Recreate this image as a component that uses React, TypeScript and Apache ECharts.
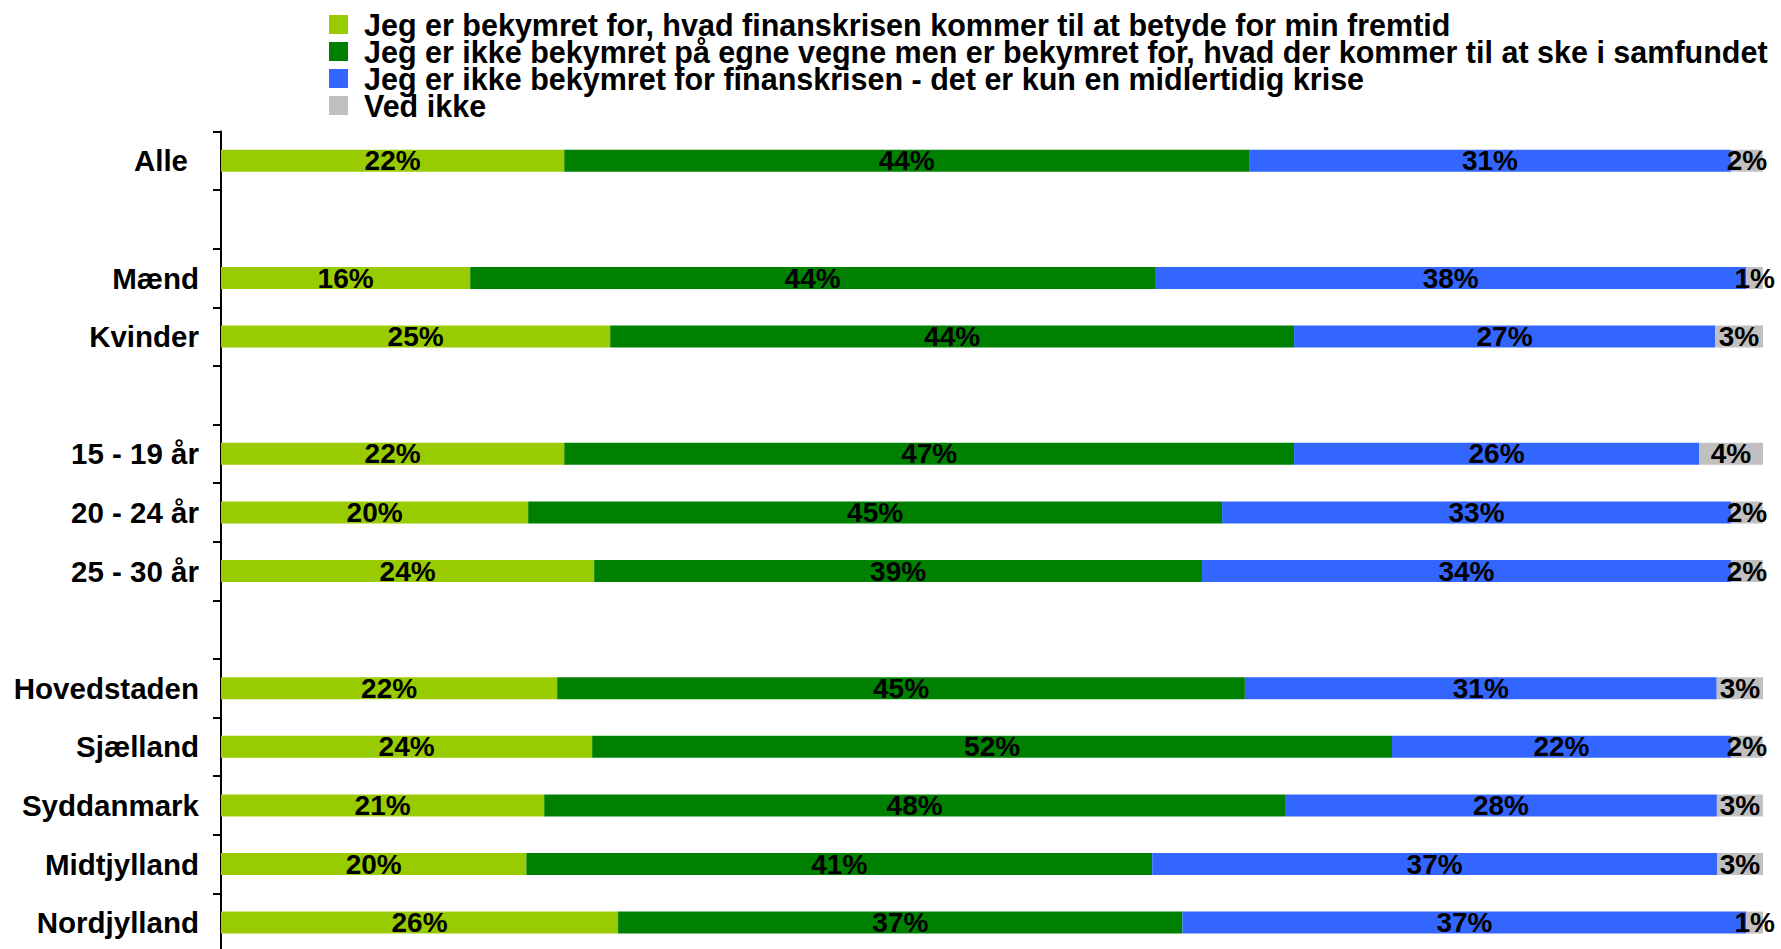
import React, { useEffect, useRef } from "react";
import * as echarts from "echarts";

const rows = [
  "Alle", "", "Mænd", "Kvinder", " ", "15 - 19 år", "20 - 24 år", "25 - 30 år",
  "  ", "Hovedstaden", "Sjælland", "Syddanmark", "Midtjylland", "Nordjylland",
];

const seriesNames = [
  "Jeg er bekymret for, hvad finanskrisen kommer til at betyde for min fremtid",
  "Jeg er ikke bekymret på egne vegne men er bekymret for, hvad der kommer til at ske i samfundet",
  "Jeg er ikke bekymret for finanskrisen - det er kun en midlertidig krise",
  "Ved ikke",
];

const bekymret = [22.26, null, 16.16, 25.24, null, 22.26, 19.92, 24.2, null, 21.8, 24.07, 20.96, 19.8, 25.75];
const samfundet = [44.41, null, 44.41, 44.35, null, 47.33, 45.0, 39.42, null, 44.6, 51.87, 48.04, 40.59, 36.6];
const midlertidig = [31.25, null, 38.36, 27.3, null, 26.26, 33.0, 34.3, null, 30.6, 21.98, 28.01, 36.63, 36.57];
const vedIkke = [2.07, null, 1.06, 3.11, null, 4.15, 2.07, 2.07, null, 3.0, 2.07, 2.98, 2.98, 1.1];

const colors = ["#99CC00", "#008000", "#3366FF", "#C0C0C0"];

const FONT = '"Liberation Sans", Arial, Helvetica, sans-serif';

export default function App() {
  const ref = useRef<HTMLDivElement>(null);

  useEffect(() => {
    document.body.style.margin = "0";
    const chart = echarts.init(ref.current!, null, { renderer: "svg" });
    const dataSets = [bekymret, samfundet, midlertidig, vedIkke];
    const option: any = {
      animation: false,
      backgroundColor: "#ffffff",
      textStyle: { fontFamily: FONT },
      legend: {
        orient: "vertical",
        left: 329,
        top: 9,
        padding: 0,
        itemGap: -4,
        itemWidth: 19,
        itemHeight: 19,
        icon: "rect",
        selectedMode: false,
        data: seriesNames,
        textStyle: {
          fontFamily: FONT,
          fontWeight: "bold",
          fontSize: 30.5,
          color: "#000",
          padding: [0, 0, 0, 11],
        },
      },
      grid: {
        left: 221,
        top: 131.5,
        width: 1542,
        height: 820.4,
        outerBoundsMode: "none",
        containLabel: false,
      },
      xAxis: {
        type: "value",
        min: 0,
        max: 100,
        show: false,
      },
      yAxis: {
        type: "category",
        inverse: true,
        data: rows,
        axisLine: { show: true, lineStyle: { color: "#000", width: 2 } },
        axisTick: { show: true, length: 8, lineStyle: { color: "#000", width: 2 } },
        axisLabel: {
          margin: 22,
          fontFamily: FONT,
          fontWeight: "bold",
          fontSize: 29.5,
          color: "#000",
          formatter: (v: string) => (v === "Alle" ? "{a|Alle}" : v),
          rich: {
            a: {
              fontFamily: FONT,
              fontWeight: "bold",
              fontSize: 29.5,
              color: "#000",
              padding: [0, 11, 0, 0],
            },
          },
        },
        splitLine: { show: false },
      },
      series: seriesNames.map((name, i) => ({
        name,
        type: "bar",
        stack: "total",
        barWidth: 22,
        itemStyle: { color: colors[i] },
        label: {
          show: true,
          position: "inside",
          fontFamily: FONT,
          fontWeight: "bold",
          fontSize: 28,
          color: "#000",
          formatter: (p: any) => (p.value == null ? "" : Math.round(p.value) + "%"),
        },
        data: dataSets[i],
      })),
    };
    chart.setOption(option);
    return () => chart.dispose();
  }, []);

  return (
    <div
      ref={ref}
      style={{ position: "fixed", left: 0, top: 0, width: 1781, height: 949 }}
    />
  );
}
